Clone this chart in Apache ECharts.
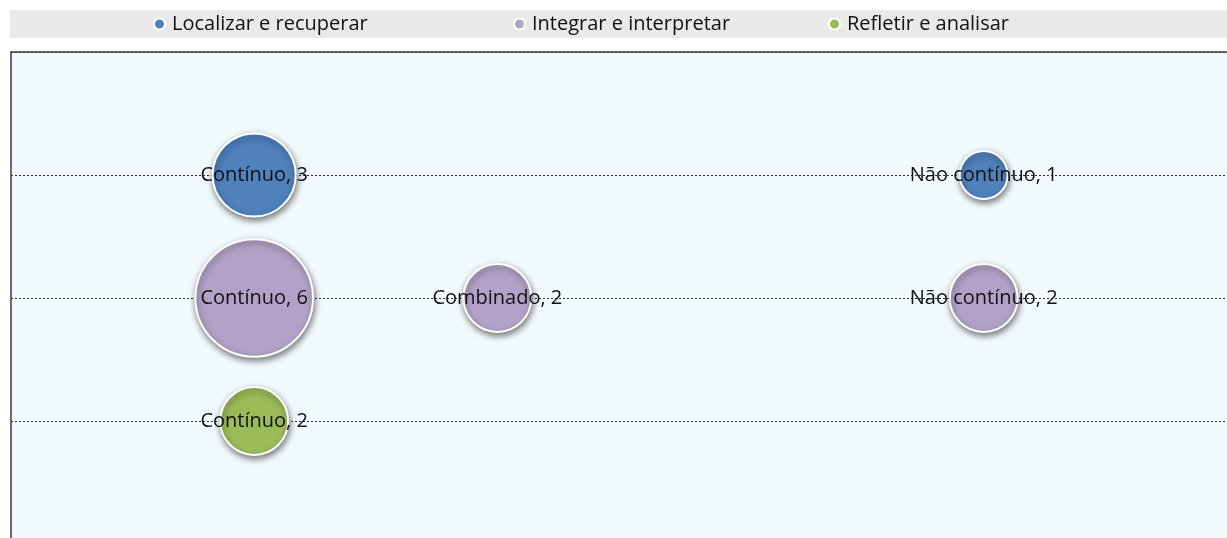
<!DOCTYPE html>
<html>
<head>
<meta charset="utf-8">
<script src="https://cdn.jsdelivr.net/npm/echarts@6/dist/echarts.min.js"></script>
<style>
  html, body { margin: 0; padding: 0; background: #fff; }
  #chart { width: 1227px; height: 538px; }
</style>
</head>
<body>
<div id="chart"></div>
<script>
// tipos de texto no eixo x (posição numérica de cada um)
const textTypes = ['Contínuo', 'Combinado', 'Não contínuo']
const textTypePos = [1, 2, 4]
// processos (séries) e a sua linha no eixo y
const processes = ['Localizar e recuperar', 'Integrar e interpretar', 'Refletir e analisar']
const processRow = [3, 2, 1]
const colors = ['#4f81bd', '#b3a2c7', '#9bbb59']
// número de itens por tipo de texto (null = sem bolha)
const localizarValues = [3, null, 1]
const integrarValues = [6, 2, 2]
const refletirValues = [2, null, null]
const allValues = [localizarValues, integrarValues, refletirValues]

const chart = echarts.init(document.getElementById('chart'))
const font = '"Open Sans", sans-serif'

const buildData = (values, row) => {
  let list = []
  values.forEach((v, i) => {
    if (v !== null) list = list.concat([[textTypePos[i], row, v, textTypes[i]]])
  })
  return list
}

const series = processes.map((name, i) => ({
  name: name,
  type: 'scatter',
  data: buildData(allValues[i], processRow[i]),
  symbolSize: (d) => 48 * Math.sqrt(d[2]),
  itemStyle: {
    color: colors[i],
    opacity: 1,
    borderColor: '#ffffff',
    borderWidth: 2,
    shadowColor: 'rgba(0,0,0,0.5)',
    shadowBlur: 6,
    shadowOffsetX: 1,
    shadowOffsetY: 3,
  },
  label: {
    show: true,
    position: 'inside',
    color: '#111',
    fontFamily: font,
    fontSize: 20,
    formatter: (p) => p.data[3] + ', ' + p.data[2],
  },
  z: 3,
}))

const legendLefts = [153, 513, 828]
const legends = processes.map((name, i) => ({
  data: [name],
  left: legendLefts[i],
  top: 14,
  icon: 'circle',
  itemWidth: 11,
  itemHeight: 11,
  padding: 0,
  selectedMode: false,
  textStyle: {
    color: '#111',
    fontFamily: font,
    fontSize: 20,
    padding: [0, 0, 0, 2],
  },
}))

const option = {
  backgroundColor: '#fff',
  animation: false,
  graphic: [
    {
      type: 'rect',
      left: 10,
      top: 10,
      shape: { width: 1217, height: 28 },
      style: { fill: '#e9e9e9' },
      z: -10,
    },
  ],
  legend: legends,
  grid: {
    left: 11,
    top: 52,
    width: 1459,
    height: 615,
    outerBoundsMode: 'none',
    containLabel: false,
    show: true,
    backgroundColor: '#f2f9fc',
    borderColor: '#6b6b6b',
    borderWidth: 2,
  },
  xAxis: {
    type: 'value',
    min: 0,
    max: 6,
    interval: 1,
    axisLine: { show: false },
    axisTick: { show: false },
    axisLabel: { show: false },
    splitLine: { show: false },
  },
  yAxis: {
    type: 'value',
    min: -1,
    max: 4,
    interval: 1,
    axisLine: { show: false },
    axisTick: { show: false },
    axisLabel: { show: false },
    splitLine: {
      show: true,
      lineStyle: { color: '#333', width: 1, type: [2, 2] },
    },
  },
  series: series,
}
chart.setOption(option)
</script>
</body>
</html>
